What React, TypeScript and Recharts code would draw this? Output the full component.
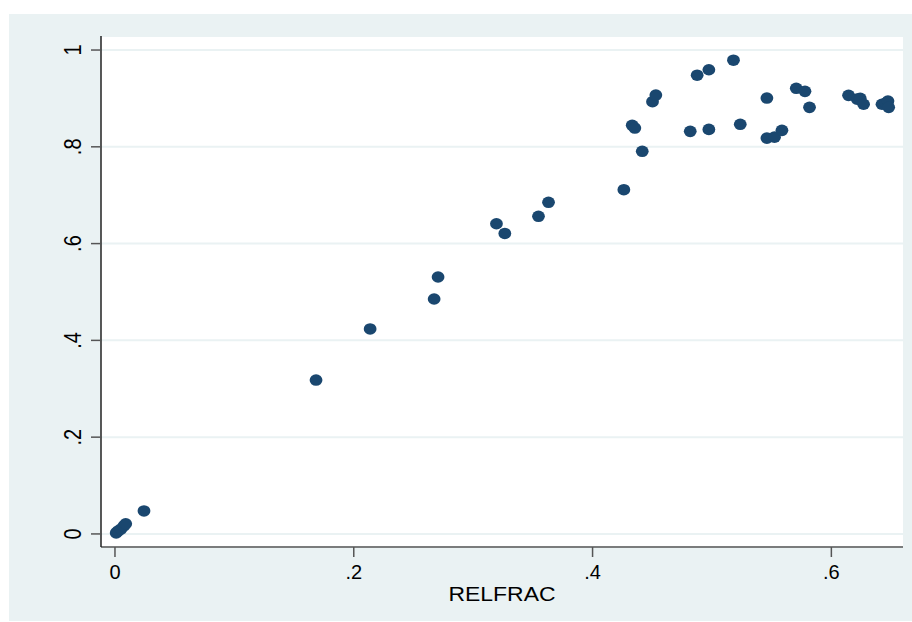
import React from 'react'
import { ScatterChart, Scatter, XAxis, YAxis, CartesianGrid } from 'recharts'

// values
const relfrac = [
  0.001, 0.0025, 0.005, 0.0075, 0.009, 0.0243,
  0.1684, 0.2137, 0.2673, 0.2706, 0.3195, 0.3265, 0.3547, 0.3631,
  0.4262, 0.4332, 0.4354, 0.4416, 0.4502, 0.453,
  0.4818, 0.4876, 0.4974, 0.4974, 0.518, 0.5237,
  0.546, 0.546, 0.5524, 0.5586, 0.5706, 0.5779, 0.5817,
  0.6144, 0.6216, 0.6242, 0.627, 0.6424, 0.6455, 0.6474, 0.648,
]
const share = [
  0.002, 0.006, 0.01, 0.0165, 0.021, 0.0475,
  0.318, 0.4236, 0.4855, 0.531, 0.641, 0.621, 0.6564, 0.6853,
  0.7114, 0.8444, 0.8388, 0.7907, 0.8932, 0.907,
  0.832, 0.948, 0.836, 0.9593, 0.979, 0.8465,
  0.9008, 0.818, 0.82, 0.834, 0.9209, 0.9146, 0.8816,
  0.9064, 0.8986, 0.9, 0.888, 0.888, 0.8905, 0.8946, 0.8816,
]
const xTicks = [0, 0.2, 0.4, 0.6]
const yTicks = [0, 0.2, 0.4, 0.6, 0.8, 1]

const points = relfrac.map((x, i) => ({ x, y: share[i] }))

const fmt = (v: number) => (v === 0 ? '0' : v === 1 ? '1' : String(v).replace(/^0/, ''))

const FONT = '"Liberation Sans", Arial, Helvetica, sans-serif'

// rotated labels, a bit stretched like the Stata export
const YTick = (props: any) => {
  const { x, y, payload } = props
  const cx = x - 9
  return (
    <g transform={`translate(${cx}, ${y}) rotate(-90) scale(1, 1.2)`}>
      <text
        x={0}
        y={0}
        textAnchor="middle"
        dominantBaseline="central"
        fontSize={20}
        fontFamily={FONT}
        fill="#000"
      >
        {fmt(payload.value)}
      </text>
    </g>
  )
}

const XLabel = (props: any) => {
  const vb = props.viewBox || {}
  return (
    <text
      x={vb.x + vb.width / 2}
      y={vb.y + 54}
      textAnchor="middle"
      fontSize={20}
      fontFamily={FONT}
      fill="#000"
      textLength={107}
      lengthAdjust="spacingAndGlyphs"
    >
      RELFRAC
    </text>
  )
}

const Dot = (props: any) => (
  <ellipse cx={props.cx} cy={props.cy} rx={6.4} ry={5.8} fill="#1a476f" />
)

export default function App() {
  return (
    <div style={{ position: 'absolute', left: 0, top: 0, width: 912, height: 622, background: '#fff' }}>
      <div style={{ position: 'absolute', left: 9, top: 14, width: 903, height: 607, background: '#eaf2f3' }}>
        <ScatterChart width={903} height={607} margin={{ top: 22, right: 9, bottom: 0, left: 0 }}>
          <CartesianGrid
            vertical={false}
            fill="#fff"
            stroke="#eaf2f3"
            strokeWidth={2}
          />
          <XAxis
            type="number"
            dataKey="x"
            domain={[-0.0117, 0.66]}
            ticks={xTicks}
            tickFormatter={fmt}
            allowDataOverflow
            height={74}
            tickSize={10}
            tickMargin={8}
            axisLine={{ stroke: '#555', strokeWidth: 1.5 }}
            tickLine={{ stroke: '#555', strokeWidth: 1.5 }}
            tick={{ fontSize: 20, fontFamily: FONT, fill: '#000' }}
            label={<XLabel />}
          />
          <YAxis
            type="number"
            dataKey="y"
            domain={[-0.027, 1.029]}
            ticks={yTicks}
            allowDataOverflow
            width={92}
            tickSize={10}
            tickMargin={9}
            axisLine={{ stroke: '#222', strokeWidth: 1.5 }}
            tickLine={{ stroke: '#555', strokeWidth: 1.5 }}
            tick={<YTick />}
          />
          <Scatter data={points} shape={<Dot />} isAnimationActive={false} />
        </ScatterChart>
      </div>
    </div>
  )
}
